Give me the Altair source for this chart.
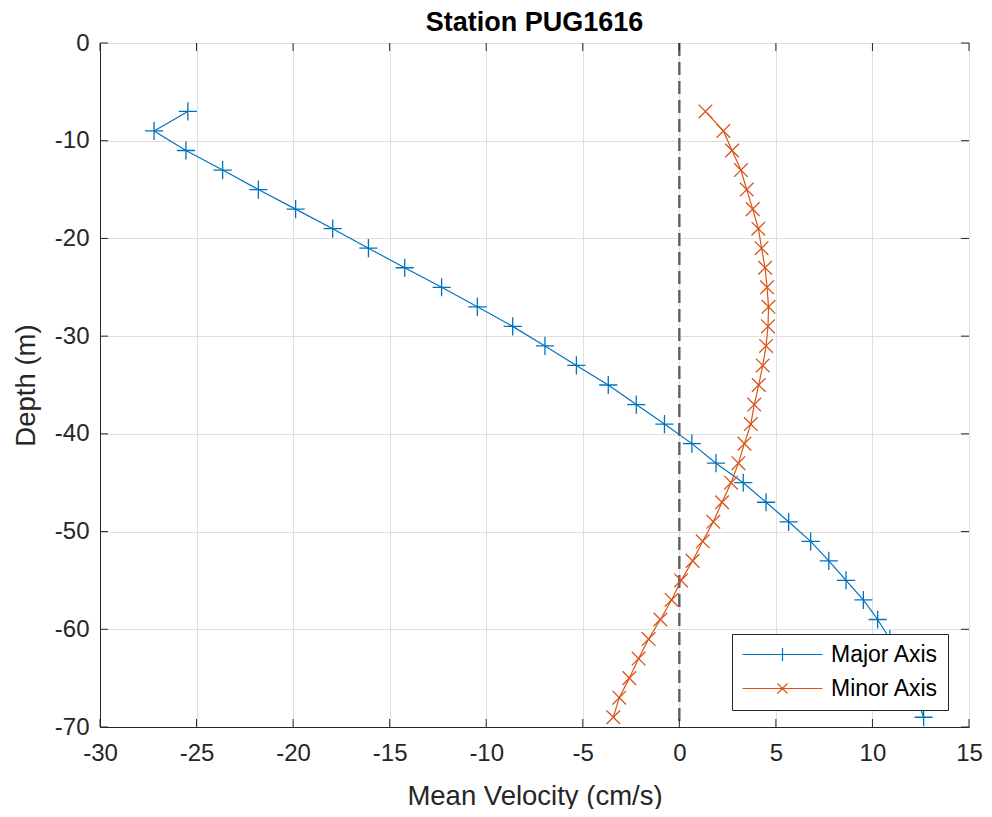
import altair as alt
import pandas as pd

# ---- data ----
depth = [-7, -9, -11, -13, -15, -17, -19, -21, -23, -25, -27, -29, -31, -33, -35, -37,
         -39, -41, -43, -45, -47, -49, -51, -53, -55, -57, -59, -61, -63, -65, -67, -69]
major_axis = [-25.45, -27.2, -25.55, -23.65, -21.8, -19.87, -17.95, -16.1, -14.22, -12.31,
              -10.46, -8.63, -6.96, -5.33, -3.68, -2.23, -0.77, 0.65, 1.9, 3.31, 4.49,
              5.66, 6.8, 7.74, 8.63, 9.53, 10.27, 10.9, 11.4, 11.85, 12.3, 12.65]
minor_axis = [1.35, 2.28, 2.73, 3.19, 3.49, 3.8, 4.09, 4.26, 4.44, 4.54, 4.62, 4.59, 4.49,
              4.32, 4.11, 3.88, 3.7, 3.37, 3.06, 2.68, 2.21, 1.76, 1.21, 0.69, 0.09, -0.4,
              -0.98, -1.59, -2.11, -2.59, -3.11, -3.42]
series_names = ["Major Axis", "Minor Axis"]
series_colors = ["#0072BD", "#D95319"]
x_ticks = [-30, -25, -20, -15, -10, -5, 0, 5, 10, 15]
y_ticks = [-70, -60, -50, -40, -30, -20, -10, 0]
zero_line = [0]

rows = []
for name, vals in zip(series_names, [major_axis, minor_axis]):
    for i, (d, v) in enumerate(zip(depth, vals)):
        rows.append({"series": name, "depth": d, "velocity": v, "idx": i})
df = pd.DataFrame(rows)

W, H = 869, 684
FONT = "Liberation Sans"
AX = "#262626"
TICK = 8

xscale = alt.Scale(domain=[-30, 15], nice=False, zero=False)
yscale = alt.Scale(domain=[-70, 0], nice=False, zero=False)
cscale = alt.Scale(domain=series_names, range=series_colors)

plot_shapes = ["M-1,0L1,0M0,-1L0,1",
               "M-0.75,-0.75L0.75,0.75M-0.75,0.75L0.75,-0.75"]
# legend symbols: a line 8 units long with the marker in its middle (unit = 10px)
legend_shapes = ["M-1,0L7,0M3,-0.65L3,0.65",
                 "M-1,0L7,0M2.5,-0.5L3.5,0.5M2.5,0.5L3.5,-0.5"]

x_axis = alt.Axis(values=x_ticks, title="Mean Velocity (cm/s)", grid=True,
                  ticks=False, tickSize=0, labelPadding=14, labelFlush=False,
                  labelExpr="toString(datum.value)",
                  titleY=77, titleBaseline="alphabetic")
y_axis = alt.Axis(values=y_ticks, title="Depth (m)", grid=True,
                  ticks=False, tickSize=0, labelPadding=11, labelFlush=False,
                  labelExpr="toString(datum.value)",
                  titleX=-66, titleBaseline="alphabetic")

base = alt.Chart(df)

lines = base.mark_line(strokeWidth=1.2).encode(
    x=alt.X("velocity:Q", scale=xscale, axis=x_axis),
    y=alt.Y("depth:Q", scale=yscale, axis=y_axis),
    color=alt.Color("series:N", scale=cscale, legend=None),
    detail="series:N",
    order=alt.Order("idx:Q"),
)

points = base.mark_point(filled=False, strokeWidth=1.3, size=330, opacity=1).encode(
    x=alt.X("velocity:Q", scale=xscale),
    y=alt.Y("depth:Q", scale=yscale),
    color=alt.Color("series:N", scale=cscale, legend=None),
    shape=alt.Shape("series:N", scale=alt.Scale(domain=series_names, range=plot_shapes),
                    legend=None),
)

legend_layer = base.mark_point(filled=False, strokeWidth=1.2, opacity=1).encode(
    x=alt.X("velocity:Q", scale=xscale),
    y=alt.Y("depth:Q", scale=yscale),
    color=alt.Color("series:N", scale=alt.Scale(domain=series_names, range=series_colors),
                    legend=alt.Legend(title=None)),
    shape=alt.Shape("series:N", scale=alt.Scale(domain=series_names, range=legend_shapes),
                    legend=alt.Legend(title=None)),
).transform_filter("false")

zero_df = pd.DataFrame({"v": zero_line})
zero_rule = alt.Chart(zero_df).mark_rule(color="#5f5f5f", strokeWidth=2.4,
                                          strokeDash=[13, 6]).encode(
    x=alt.X("v:Q", scale=xscale)
)

xt = pd.DataFrame({"v": x_ticks})
yt = pd.DataFrame({"v": y_ticks})
tick_bottom = alt.Chart(xt).mark_rule(color=AX, strokeWidth=1).encode(
    x=alt.X("v:Q", scale=xscale), y=alt.value(H), y2=alt.value(H - TICK))
tick_top = alt.Chart(xt).mark_rule(color=AX, strokeWidth=1).encode(
    x=alt.X("v:Q", scale=xscale), y=alt.value(0), y2=alt.value(TICK))
tick_left = alt.Chart(yt).mark_rule(color=AX, strokeWidth=1).encode(
    y=alt.Y("v:Q", scale=yscale), x=alt.value(0), x2=alt.value(TICK))
tick_right = alt.Chart(yt).mark_rule(color=AX, strokeWidth=1).encode(
    y=alt.Y("v:Q", scale=yscale), x=alt.value(W), x2=alt.value(W - TICK))

chart = alt.layer(
    lines, zero_rule, points, tick_bottom, tick_top, tick_left, tick_right, legend_layer
).resolve_scale(
    color="independent", shape="independent"
).properties(
    width=W, height=H,
    title=alt.TitleParams("Station PUG1616", font=FONT, fontSize=27, fontWeight="bold",
                          color="black", anchor="middle", offset=6, dy=12),
    autosize=alt.AutoSizeParams(type="none"),
    padding={"left": 92, "top": 35, "right": 15, "bottom": 82},
).configure_view(
    stroke=AX, strokeWidth=1
).configure_axis(
    labelFont=FONT, labelFontSize=24, labelColor=AX,
    titleFont=FONT, titleFontSize=27.5, titleColor=AX, titleFontWeight="normal",
    domainColor=AX, domainWidth=1,
    gridColor="#dfdfdf", gridWidth=1,
).configure_legend(
    orient="none", legendX=632, legendY=591,
    fillColor="white", strokeColor=AX, strokeWidth=1,
    padding=9, labelFont=FONT, labelFontSize=23, labelColor="black",
    symbolSize=400, symbolStrokeWidth=1.2, labelOffset=67, rowPadding=10,
)

chart.save("out.html", embed_options={"renderer": "svg", "actions": False})
